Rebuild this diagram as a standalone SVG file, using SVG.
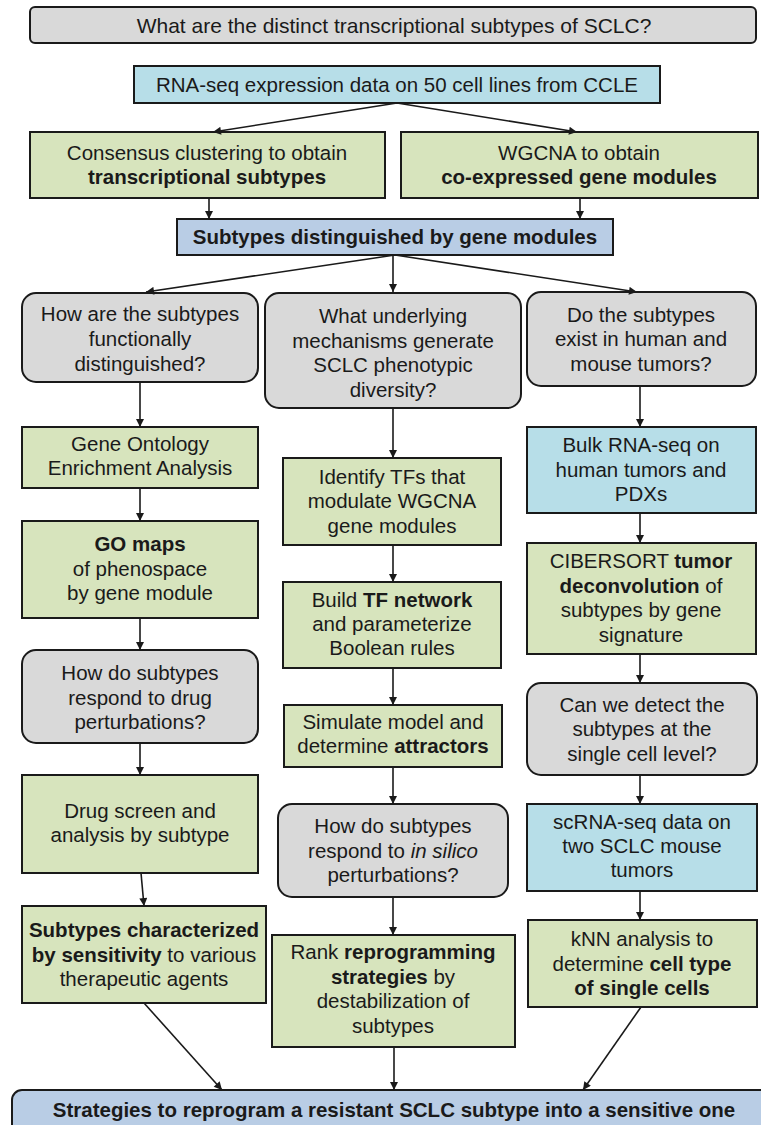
<svg xmlns="http://www.w3.org/2000/svg" width="761" height="1125" viewBox="0 0 761 1125">
<style>
text{font-family:"Liberation Sans",Arial,Helvetica,sans-serif;font-size:20.5px;fill:#1a1a1a;text-anchor:middle}
.b{font-weight:bold}
.i{font-style:italic}
.box{stroke:#1a1a1a;stroke-width:2}
.q{fill:#d9d9d9}
.g{fill:#d7e4bd}
.lb{fill:#b7dee8}
.bb{fill:#b9cde5}
.c line{stroke:#1a1a1a;stroke-width:1.6;marker-end:url(#ah)}
</style>
<defs>
<marker id="ah" viewBox="0 0 10 10" refX="10" refY="5" markerWidth="9" markerHeight="8" markerUnits="userSpaceOnUse" orient="auto">
<path d="M0,0 L10,5 L0,10 z" fill="#1a1a1a"/>
</marker>
</defs>
<rect width="761" height="1125" fill="#ffffff"/>

<g id="title"><rect class="box q" x="30" y="7" width="726" height="36" rx="5"/><text x="394" y="33" style="font-size:21px">What are the distinct transcriptional subtypes of SCLC?</text></g>
<g id="rnaseq"><rect class="box lb" x="134" y="66" width="526" height="37"/><text x="397" y="92">RNA-seq expression data on 50 cell lines from CCLE</text></g>
<g id="consensus"><rect class="box g" x="30" y="132" width="355" height="66"/><text x="207" y="160">Consensus clustering to obtain</text><text x="207" y="184" class="b">transcriptional subtypes</text></g>
<g id="wgcna"><rect class="box g" x="401" y="132" width="357" height="66"/><text x="579" y="160">WGCNA to obtain</text><text x="579" y="184" class="b">co-expressed gene modules</text></g>
<g id="subtypes"><rect class="box bb" x="177" y="219" width="436" height="36"/><text x="395" y="244" class="b">Subtypes distinguished by gene modules</text></g>

<g id="q-functional"><rect class="box q" x="22" y="293" width="236" height="89" rx="14"/><text x="140" y="321">How are the subtypes</text><text x="140" y="346">functionally</text><text x="140" y="371">distinguished?</text></g>
<g id="go-enrich"><rect class="box g" x="22" y="427" width="236" height="61"/><text x="140" y="451">Gene Ontology</text><text x="140" y="475">Enrichment Analysis</text></g>
<g id="go-maps"><rect class="box g" x="22" y="521" width="236" height="97"/><text x="140" y="551" class="b">GO maps</text><text x="140" y="576">of phenospace</text><text x="140" y="600">by gene module</text></g>
<g id="q-drug"><rect class="box q" x="22" y="650" width="236" height="93" rx="14"/><text x="140" y="680">How do subtypes</text><text x="140" y="705">respond to drug</text><text x="140" y="729">perturbations?</text></g>
<g id="drug-screen"><rect class="box g" x="22" y="775" width="236" height="98"/><text x="140" y="818">Drug screen and</text><text x="140" y="842">analysis by subtype</text></g>
<g id="sensitivity"><rect class="box g" x="22" y="906" width="244" height="97"/><text x="144" y="937" class="b">Subtypes characterized</text><text x="144" y="962"><tspan class="b">by sensitivity</tspan> to various</text><text x="144" y="986">therapeutic agents</text></g>

<g id="q-mechanisms"><rect class="box q" x="265" y="293" width="256" height="115" rx="14"/><text x="393" y="323">What underlying</text><text x="393" y="347.5">mechanisms generate</text><text x="393" y="372">SCLC phenotypic</text><text x="393" y="396.5">diversity?</text></g>
<g id="identify-tfs"><rect class="box g" x="283" y="458" width="218" height="87"/><text x="392" y="483.5">Identify TFs that</text><text x="392" y="508">modulate WGCNA</text><text x="392" y="532.5">gene modules</text></g>
<g id="tf-network"><rect class="box g" x="283" y="582" width="218" height="86"/><text x="392" y="607"><tspan>Build </tspan><tspan class="b">TF network</tspan></text><text x="392" y="631">and parameterize</text><text x="392" y="655">Boolean rules</text></g>
<g id="simulate"><rect class="box g" x="284" y="705" width="218" height="62"/><text x="393" y="729">Simulate model and</text><text x="393" y="753">determine <tspan class="b">attractors</tspan></text></g>
<g id="q-insilico"><rect class="box q" x="278" y="804" width="230" height="93" rx="14"/><text x="393" y="833">How do subtypes</text><text x="393" y="857.5">respond to <tspan class="i">in silico</tspan></text><text x="393" y="882">perturbations?</text></g>
<g id="rank"><rect class="box g" x="272" y="935" width="243" height="112"/><text x="393" y="959">Rank <tspan class="b">reprogramming</tspan></text><text x="393" y="983.5"><tspan class="b">strategies</tspan> by</text><text x="393" y="1008">destabilization of</text><text x="393" y="1032.5">subtypes</text></g>

<g id="q-tumors"><rect class="box q" x="527" y="292" width="229" height="94" rx="14"/><text x="641" y="322">Do the subtypes</text><text x="641" y="346">exist in human and</text><text x="641" y="370.5">mouse tumors?</text></g>
<g id="bulk"><rect class="box lb" x="527" y="427" width="229" height="86"/><text x="641" y="452">Bulk RNA-seq on</text><text x="641" y="476.5">human tumors and</text><text x="641" y="501">PDXs</text></g>
<g id="cibersort"><rect class="box g" x="527" y="543" width="229" height="111"/><text x="641" y="568"><tspan>CIBERSORT </tspan><tspan class="b">tumor</tspan></text><text x="641" y="592.5"><tspan class="b">deconvolution</tspan> of</text><text x="641" y="617">subtypes by gene</text><text x="641" y="641.5">signature</text></g>
<g id="q-singlecell"><rect class="box q" x="527" y="683" width="230" height="92" rx="14"/><text x="642" y="712">Can we detect the</text><text x="642" y="736">subtypes at the</text><text x="642" y="760.5">single cell level?</text></g>
<g id="scrnaseq"><rect class="box lb" x="527" y="804" width="230" height="87"/><text x="642" y="829">scRNA-seq data on</text><text x="642" y="853">two SCLC mouse</text><text x="642" y="877">tumors</text></g>
<g id="knn"><rect class="box g" x="528" y="920" width="229" height="87"/><text x="642" y="946">kNN analysis to</text><text x="642" y="970.5">determine <tspan class="b">cell type</tspan></text><text x="642" y="995" class="b">of single cells</text></g>

<g id="strategies"><rect class="box bb" x="12" y="1090" width="760" height="50" rx="10"/><text x="394" y="1117" class="b">Strategies to reprogram a resistant SCLC subtype into a sensitive one</text></g>

<g id="connectors" class="c">
<line x1="397" y1="103" x2="213" y2="132"/>
<line x1="397" y1="103" x2="577" y2="132"/>
<line x1="209" y1="198" x2="209" y2="219"/>
<line x1="580" y1="198" x2="580" y2="219"/>
<line x1="395" y1="255" x2="146" y2="292"/>
<line x1="393" y1="255" x2="393" y2="292"/>
<line x1="395" y1="255" x2="637" y2="292"/>
<line x1="140" y1="382" x2="140" y2="427"/>
<line x1="140" y1="488" x2="140" y2="521"/>
<line x1="140" y1="618" x2="140" y2="650"/>
<line x1="140" y1="743" x2="140" y2="775"/>
<line x1="141" y1="873" x2="144" y2="906"/>
<line x1="144" y1="1003" x2="222" y2="1090"/>
<line x1="393" y1="408" x2="393" y2="458"/>
<line x1="393" y1="545" x2="393" y2="582"/>
<line x1="393" y1="668" x2="393" y2="705"/>
<line x1="393" y1="767" x2="393" y2="804"/>
<line x1="393" y1="897" x2="393" y2="935"/>
<line x1="394" y1="1047" x2="394" y2="1090"/>
<line x1="640" y1="386" x2="640" y2="427"/>
<line x1="640" y1="513" x2="640" y2="543"/>
<line x1="640" y1="654" x2="640" y2="683"/>
<line x1="640" y1="775" x2="640" y2="804"/>
<line x1="640" y1="891" x2="640" y2="920"/>
<line x1="641" y1="1007" x2="583" y2="1090"/>
</g>
</svg>
